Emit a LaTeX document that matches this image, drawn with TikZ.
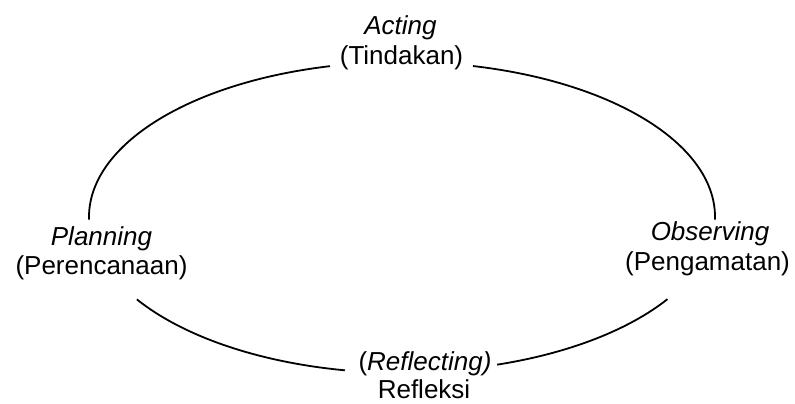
\documentclass[tikz,border=0pt]{standalone}
\usepackage{fontspec}
\setmainfont{Liberation Sans}
\usetikzlibrary{calc}
\tikzset{
  lbl/.style={anchor=base,inner sep=0pt,font=\fontsize{13}{15}\selectfont},
  cyc/.style={line width=0.9pt,black},
}
\begin{document}
\begin{tikzpicture}[x=0.5pt,y=0.5pt]
\useasboundingbox (0,0) rectangle (795,403);
% labels
\node[lbl] (acting) at (400.5,369) {\textit{Acting}};
\node[lbl] (tindakan) at (401.5,339) {(Tindakan)};
\node[lbl] (planning) at (101.5,158) {\textit{Planning}};
\node[lbl] (perencanaan) at (101.5,129) {(Perencanaan)};
\node[lbl] (observing) at (710,163) {\textit{Observing}};
\node[lbl] (pengamatan) at (707.5,133) {(Pengamatan)};
\node[lbl] (reflecting) at (425,33) {(\textit{Reflecting)}};
\node[lbl] (refleksi) at (424,5) {Refleksi};
% cycle arcs
\coordinate (C) at (402,186);
\draw[cyc] ($(C)+(103.3:313 and 155)$) arc[start angle=103.3,end angle=181,x radius=313,y radius=155];
\draw[cyc] ($(C)+(76.9:313 and 155)$) arc[start angle=76.9,end angle=-1,x radius=313,y radius=155];
\draw[cyc] ($(C)+(-32:313 and 155)$) arc[start angle=-32,end angle=-72.3,x radius=313,y radius=155];
\draw[cyc] ($(C)+(-147.9:313 and 155)$) arc[start angle=-147.9,end angle=-100.5,x radius=313,y radius=157];
\end{tikzpicture}
\end{document}
